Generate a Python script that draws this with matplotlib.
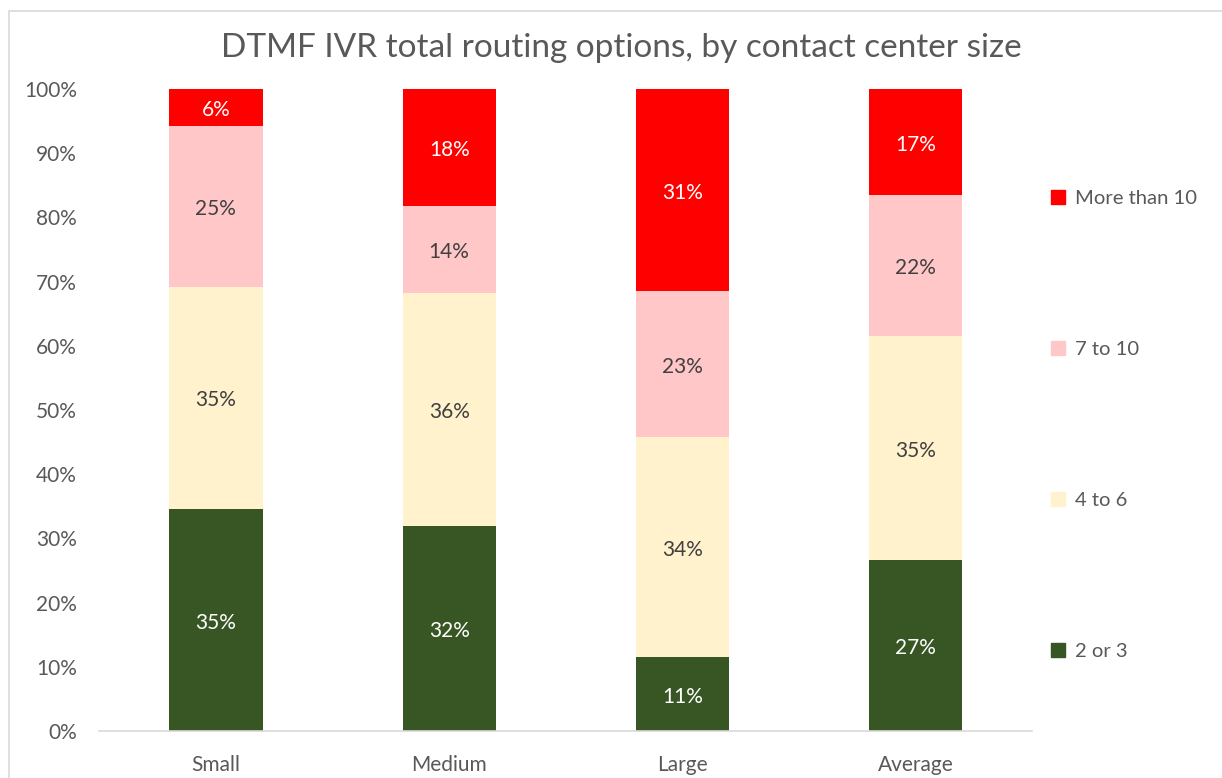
import matplotlib.pyplot as plt
import numpy as np
from matplotlib.lines import Line2D
from matplotlib.patches import Rectangle

plt.rcParams['font.family'] = ['Lato', 'DejaVu Sans']

categories = ['Small', 'Medium', 'Large', 'Average']
series_names = ['2 or 3', '4 to 6', '7 to 10', 'More than 10']
two_or_three = [34.6, 31.9, 11.5, 26.6]
four_to_six = [34.6, 36.3, 34.3, 34.9]
seven_to_ten = [25.0, 13.6, 22.7, 22.0]
more_than_ten = [5.8, 18.2, 31.5, 16.5]
labels = [['35%', '32%', '11%', '27%'],
          ['35%', '36%', '34%', '35%'],
          ['25%', '14%', '23%', '22%'],
          ['6%', '18%', '31%', '17%']]

colors = ['#375623', '#FFF2CC', '#FFC7C7', '#FF0000']
label_colors = ['white', '#404040', '#404040', 'white']

data = np.array([two_or_three, four_to_six, seven_to_ten, more_than_ten])
data = data / data.sum(axis=0) * 100

fig = plt.figure(figsize=(12.22, 7.78), dpi=100)
fig.patches.append(Rectangle((9 / 1222, -0.1), 1.2, 1 - 11 / 778 + 0.1, transform=fig.transFigure,
                             fill=False, edgecolor='#D9D9D9', linewidth=1.2))
ax = fig.add_axes([99.3 / 1222, 1 - 731 / 778, 933 / 1222, 642 / 778])

x = np.arange(len(categories))
bottom = np.zeros(len(categories))
for i in range(len(series_names)):
    ax.bar(x, data[i], 0.4, bottom=bottom, color=colors[i], label=series_names[i])
    for j in range(len(categories)):
        ax.text(x[j], bottom[j] + data[i][j] / 2 - 0.4, labels[i][j], ha='center', va='center',
                fontsize=15, color=label_colors[i])
    bottom += data[i]

ax.set_xlim(-0.5, 3.5)
ax.set_ylim(0, 100)
ax.set_yticks(np.arange(0, 101, 10))
ax.set_yticklabels([str(v) + '%' for v in range(0, 101, 10)])
ax.tick_params(axis='both', length=0, labelsize=15, labelcolor='#595959')
ax.tick_params(axis='y', pad=16)
ax.tick_params(axis='x', pad=17)
ax.set_xticks(x)
ax.set_xticklabels(categories)
for s in ['top', 'right', 'left']:
    ax.spines[s].set_visible(False)
ax.spines['bottom'].set_color('#D9D9D9')
ax.spines['bottom'].set_linewidth(1.2)

fig.text(621 / 1222, 1 - 48 / 778, 'DTMF IVR total routing options, by contact center size',
         ha='center', va='center', fontsize=24, color='#595959')

handles = [Line2D([], [], marker='s', linestyle='', markersize=10, color=colors[i]) for i in range(4)]
leg = fig.legend(handles[::-1], series_names[::-1], loc='center left', bbox_to_anchor=(1030 / 1222, 0.454),
                 frameon=False, fontsize=14.6, labelspacing=6.6, handletextpad=0.3, handlelength=1.0)
for t in leg.get_texts():
    t.set_color('#595959')

plt.savefig('out.png', dpi=100)
